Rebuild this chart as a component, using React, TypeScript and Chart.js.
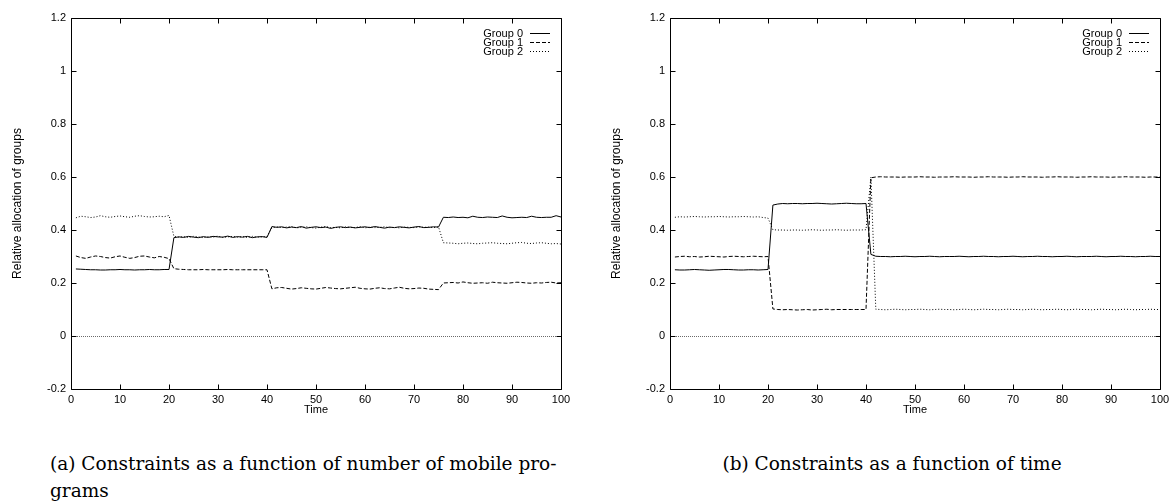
import React, { useEffect, useRef } from 'react';
import { Chart, registerables } from 'chart.js';

Chart.register(...registerables);

// ---------- data ----------
const TIME = [
  1, 2, 3, 4, 5, 6, 7, 8, 9, 10, 11, 12, 13, 14, 15, 16, 17, 18, 19, 20,
  21, 22, 23, 24, 25, 26, 27, 28, 29, 30, 31, 32, 33, 34, 35, 36, 37, 38, 39, 40,
  41, 42, 43, 44, 45, 46, 47, 48, 49, 50, 51, 52, 53, 54, 55, 56, 57, 58, 59, 60,
  61, 62, 63, 64, 65, 66, 67, 68, 69, 70, 71, 72, 73, 74, 75, 76, 77, 78, 79, 80,
  81, 82, 83, 84, 85, 86, 87, 88, 89, 90, 91, 92, 93, 94, 95, 96, 97, 98, 99, 100,
];

// (a) constraints as a function of number of mobile programs
const A_GROUP0 = [
  0.253, 0.252, 0.251, 0.250, 0.250, 0.249, 0.249, 0.250, 0.250, 0.251, 0.250, 0.250, 0.249, 0.250, 0.250, 0.251, 0.250, 0.250, 0.251, 0.251,
  0.371, 0.374, 0.372, 0.376, 0.373, 0.371, 0.375, 0.372, 0.376, 0.374, 0.373, 0.377, 0.372, 0.375, 0.373, 0.376, 0.371, 0.374, 0.375, 0.372,
  0.413, 0.410, 0.412, 0.408, 0.411, 0.409, 0.413, 0.407, 0.410, 0.412, 0.409, 0.411, 0.406, 0.410, 0.412, 0.409, 0.411, 0.408, 0.410, 0.412,
  0.409, 0.413, 0.410, 0.407, 0.411, 0.409, 0.412, 0.410, 0.408, 0.411, 0.413, 0.409, 0.410, 0.412, 0.411,
  0.448, 0.447, 0.449, 0.447, 0.448, 0.446, 0.452, 0.448, 0.447, 0.449, 0.448, 0.447, 0.453, 0.448, 0.446, 0.447, 0.448, 0.447, 0.452, 0.448,
  0.447, 0.448, 0.448, 0.454, 0.449,
];
const A_GROUP1 = [
  0.302, 0.296, 0.293, 0.298, 0.302, 0.300, 0.296, 0.294, 0.299, 0.302, 0.297, 0.293, 0.296, 0.301, 0.302, 0.298, 0.295, 0.300, 0.297, 0.292,
  0.254, 0.252, 0.251, 0.250, 0.250, 0.250, 0.251, 0.250, 0.250, 0.250, 0.250, 0.251, 0.250, 0.250, 0.250, 0.250, 0.250, 0.250, 0.250, 0.250,
  0.178, 0.182, 0.183, 0.180, 0.177, 0.179, 0.182, 0.180, 0.178, 0.177, 0.180, 0.183, 0.181, 0.179, 0.178, 0.180, 0.182, 0.184, 0.180, 0.178,
  0.177, 0.180, 0.182, 0.179, 0.178, 0.181, 0.184, 0.180, 0.178, 0.179, 0.181, 0.180, 0.177, 0.176, 0.175,
  0.200, 0.201, 0.202, 0.200, 0.204, 0.201, 0.199, 0.200, 0.201, 0.199, 0.203, 0.201, 0.200, 0.199, 0.201, 0.203, 0.202, 0.200, 0.199, 0.201,
  0.200, 0.202, 0.203, 0.200, 0.201,
];
const A_GROUP2 = [
  0.446, 0.452, 0.450, 0.447, 0.449, 0.454, 0.450, 0.448, 0.451, 0.453, 0.450, 0.448, 0.452, 0.454, 0.451, 0.449, 0.450, 0.452, 0.450, 0.455,
  0.376, 0.373, 0.375, 0.372, 0.376, 0.374, 0.371, 0.375, 0.373, 0.377, 0.372, 0.374, 0.376, 0.373, 0.375, 0.372, 0.376, 0.373, 0.374, 0.376,
  0.408, 0.412, 0.409, 0.411, 0.413, 0.408, 0.410, 0.412, 0.409, 0.407, 0.411, 0.413, 0.409, 0.410, 0.408, 0.412, 0.410, 0.409, 0.413, 0.408,
  0.411, 0.409, 0.410, 0.412, 0.409, 0.410, 0.408, 0.411, 0.410, 0.409, 0.412, 0.410, 0.411, 0.409, 0.412,
  0.352, 0.351, 0.350, 0.348, 0.350, 0.351, 0.349, 0.348, 0.350, 0.351, 0.352, 0.350, 0.349, 0.348, 0.350, 0.352, 0.353, 0.350, 0.349, 0.351,
  0.352, 0.350, 0.348, 0.349, 0.347,
];

// (b) constraints as a function of time
const B_GROUP0 = [
  0.250, 0.249, 0.249, 0.250, 0.251, 0.250, 0.249, 0.248, 0.249, 0.250, 0.251, 0.251, 0.250, 0.249, 0.249, 0.250, 0.250, 0.249, 0.250, 0.251,
  0.494, 0.498, 0.500, 0.499, 0.500, 0.500, 0.499, 0.500, 0.500, 0.501, 0.500, 0.499, 0.498, 0.499, 0.500, 0.501, 0.500, 0.499, 0.499, 0.500,
  0.308, 0.301, 0.300, 0.300, 0.299, 0.300, 0.300, 0.301, 0.300, 0.299, 0.300, 0.300, 0.301, 0.300, 0.299, 0.300, 0.300, 0.300, 0.301, 0.300,
  0.299, 0.300, 0.300, 0.301, 0.300, 0.300, 0.299, 0.300, 0.300, 0.301, 0.300, 0.299, 0.300, 0.300, 0.301, 0.300, 0.300, 0.299, 0.300, 0.300,
  0.301, 0.300, 0.299, 0.300, 0.300, 0.300, 0.301, 0.300, 0.299, 0.300, 0.300, 0.301, 0.300, 0.300, 0.299, 0.300, 0.300, 0.301, 0.300, 0.300,
];
const B_GROUP1 = [
  0.298, 0.300, 0.301, 0.299, 0.300, 0.298, 0.299, 0.301, 0.300, 0.299, 0.298, 0.300, 0.301, 0.300, 0.299, 0.300, 0.301, 0.300, 0.299, 0.300,
  0.102, 0.100, 0.099, 0.100, 0.099, 0.098, 0.099, 0.100, 0.098, 0.099, 0.100, 0.101, 0.099, 0.100, 0.100, 0.100, 0.100, 0.100, 0.100, 0.100,
  0.597, 0.600, 0.601, 0.600, 0.600, 0.600, 0.599, 0.600, 0.600, 0.600, 0.601, 0.600, 0.600, 0.599, 0.600, 0.600, 0.600, 0.601, 0.600, 0.600,
  0.600, 0.599, 0.600, 0.600, 0.601, 0.600, 0.600, 0.600, 0.599, 0.600, 0.600, 0.601, 0.600, 0.600, 0.600, 0.599, 0.600, 0.600, 0.601, 0.600,
  0.600, 0.600, 0.599, 0.600, 0.600, 0.601, 0.600, 0.600, 0.600, 0.599, 0.600, 0.600, 0.601, 0.600, 0.600, 0.600, 0.599, 0.600, 0.600, 0.600,
];
const B_GROUP2 = [
  0.448, 0.450, 0.449, 0.450, 0.451, 0.450, 0.449, 0.450, 0.450, 0.451, 0.450, 0.449, 0.450, 0.450, 0.451, 0.450, 0.449, 0.450, 0.447, 0.445,
  0.401, 0.400, 0.400, 0.399, 0.400, 0.400, 0.399, 0.400, 0.401, 0.400, 0.399, 0.400, 0.400, 0.401, 0.400, 0.399, 0.400, 0.400, 0.400, 0.401,
  0.600, 0.101, 0.100, 0.099, 0.100, 0.101, 0.100, 0.099, 0.100, 0.100, 0.101, 0.100, 0.099, 0.100, 0.101, 0.100, 0.100, 0.099, 0.100, 0.101,
  0.100, 0.099, 0.100, 0.101, 0.100, 0.100, 0.099, 0.100, 0.101, 0.100, 0.100, 0.099, 0.100, 0.101, 0.100, 0.099, 0.100, 0.100, 0.101, 0.100,
  0.099, 0.100, 0.101, 0.100, 0.100, 0.099, 0.100, 0.101, 0.100, 0.100, 0.099, 0.100, 0.101, 0.100, 0.099, 0.100, 0.100, 0.101, 0.100, 0.100,
];

const SERIES_NAMES = ['Group 0', 'Group 1', 'Group 2'];
const X_TICKS = [0, 10, 20, 30, 40, 50, 60, 70, 80, 90, 100];
const Y_TICKS = [-0.2, 0, 0.2, 0.4, 0.6, 0.8, 1, 1.2];
const Y_TICK_LABELS = ['-0.2', '0', '0.2', '0.4', '0.6', '0.8', '1', '1.2'];
const X_TITLE = 'Time';
const Y_TITLE = 'Relative allocation of groups';
const CAPTION_A = ['(a) Constraints as a function of number of mobile pro-', 'grams'];
const CAPTION_B = '(b) Constraints as a function of time';

// ---------- styling ----------
const DASHES: number[][] = [[], [4, 2], [1, 2]];
const SANS = '"Liberation Sans", Arial, sans-serif';
const TICK_FONT = { family: SANS, size: 11 };
const TITLE_FONT = { family: SANS, size: 12 };

const gnuplotFrame = {
  id: 'gnuplotFrame',
  beforeDatasetsDraw(chart: any) {
    const { ctx, chartArea, scales } = chart;
    const { left, right } = chartArea;
    const y0 = Math.round(scales.y.getPixelForValue(0)) + 0.5;
    ctx.save();
    ctx.strokeStyle = '#6a6a6a';
    ctx.lineWidth = 1;
    ctx.setLineDash([1, 1]);
    ctx.beginPath();
    ctx.moveTo(left, y0);
    ctx.lineTo(right, y0);
    ctx.stroke();
    ctx.restore();
  },
  afterDraw(chart: any) {
    const { ctx, chartArea, scales } = chart;
    const { left, right, top, bottom } = chartArea;
    const L = Math.round(left) + 0.5;
    const R = Math.round(right) + 0.5;
    const T = Math.round(top) + 0.5;
    const B = Math.round(bottom) + 0.5;
    const tick = 5;
    ctx.save();
    ctx.strokeStyle = '#000';
    ctx.lineWidth = 1;
    ctx.setLineDash([]);
    ctx.beginPath();
    ctx.rect(L, T, R - L, B - T);
    X_TICKS.forEach((v) => {
      const px = Math.round(scales.x.getPixelForValue(v)) + 0.5;
      ctx.moveTo(px, B);
      ctx.lineTo(px, B - tick);
      ctx.moveTo(px, T);
      ctx.lineTo(px, T + tick);
    });
    Y_TICKS.forEach((v) => {
      const py = Math.round(scales.y.getPixelForValue(v)) + 0.5;
      ctx.moveTo(L, py);
      ctx.lineTo(L + tick, py);
      ctx.moveTo(R, py);
      ctx.lineTo(R - tick, py);
    });
    ctx.stroke();

    // legend (gnuplot style, top right inside the frame)
    ctx.font = `11px ${SANS}`;
    ctx.fillStyle = '#000';
    ctx.textAlign = 'right';
    ctx.textBaseline = 'middle';
    SERIES_NAMES.forEach((name, i) => {
      const yy = Math.round(top + 15 + i * 9) + 0.5;
      ctx.fillText(name, right - 38, yy);
      ctx.setLineDash(DASHES[i]);
      ctx.beginPath();
      ctx.moveTo(right - 31, yy);
      ctx.lineTo(right - 11, yy);
      ctx.stroke();
    });
    ctx.restore();
  },
};

function Panel(props: { left: number; width: number; height: number; series: number[][] }) {
  const { left, width, height, series } = props;
  const ref = useRef<HTMLCanvasElement>(null);

  useEffect(() => {
    if (!ref.current) return;
    const plotLeft = 71;
    const plotRight = 561;
    const chart = new Chart(ref.current, {
      type: 'line',
      data: {
        datasets: series.map((vals, i) => ({
          label: SERIES_NAMES[i],
          data: TIME.map((t, j) => ({ x: t, y: vals[j] })),
          borderColor: '#000',
          borderWidth: 1,
          borderDash: DASHES[i],
          pointRadius: 0,
          tension: 0,
          fill: false,
        })),
      },
      options: {
        responsive: false,
        animation: false,
        events: [],
        layout: { padding: { left: 0, top: 18, right: width - plotRight, bottom: 0 } },
        plugins: { legend: { display: false }, tooltip: { enabled: false } },
        scales: {
          x: {
            type: 'linear',
            min: 0,
            max: 100,
            grid: { display: false, drawTicks: false },
            border: { display: false },
            afterBuildTicks: (s: any) => {
              s.ticks = X_TICKS.map((v) => ({ value: v }));
            },
            afterFit: (s: any) => {
              s.height = height - 389;
              s.paddingLeft = 0;
              s.paddingRight = 0;
            },
            ticks: {
              font: TICK_FONT,
              color: '#000',
              padding: 4,
              maxRotation: 0,
              autoSkip: false,
              callback: (v: any) => String(v),
            },
            title: {
              display: true,
              text: X_TITLE,
              font: TICK_FONT,
              color: '#000',
              padding: { top: 0, bottom: height - 389 - 28 },
            },
          },
          y: {
            type: 'linear',
            min: -0.2,
            max: 1.2,
            grid: { display: false, drawTicks: false },
            border: { display: false },
            afterBuildTicks: (s: any) => {
              s.ticks = Y_TICKS.map((v) => ({ value: v }));
            },
            afterFit: (s: any) => {
              s.width = plotLeft;
              s.paddingTop = 0;
              s.paddingBottom = 0;
            },
            ticks: {
              font: TICK_FONT,
              color: '#000',
              padding: 5,
              autoSkip: false,
              callback: (v: any) => {
                const idx = Y_TICKS.findIndex((t) => Math.abs(t - v) < 1e-9);
                return idx >= 0 ? Y_TICK_LABELS[idx] : '';
              },
            },
            title: {
              display: true,
              text: Y_TITLE,
              font: TITLE_FONT,
              color: '#000',
              padding: { top: 10, bottom: 0 },
            },
          },
        },
      },
      plugins: [gnuplotFrame],
    } as any);
    return () => chart.destroy();
  }, []);

  return (
    <canvas
      ref={ref}
      width={width}
      height={height}
      style={{ position: 'absolute', left, top: 0, width, height }}
    />
  );
}

export default function App() {
  const captionStyle: React.CSSProperties = {
    position: 'absolute',
    fontFamily: '"DejaVu Serif", "Liberation Serif", serif',
    fontSize: 18.5,
    lineHeight: '27px',
    color: '#000',
    whiteSpace: 'nowrap',
  };
  return (
    <div style={{ position: 'absolute', left: 0, top: 0, width: 1170, height: 502, background: '#fff', overflow: 'hidden' }}>
      <Panel left={0} width={585} height={430} series={[A_GROUP0, A_GROUP1, A_GROUP2]} />
      <Panel left={599} width={571} height={430} series={[B_GROUP0, B_GROUP1, B_GROUP2]} />
      <div style={{ ...captionStyle, left: 50, top: 450 }}>
        {CAPTION_A[0]}
        <br />
        {CAPTION_A[1]}
      </div>
      <div style={{ ...captionStyle, left: 892, top: 450, transform: 'translateX(-50%)' }}>{CAPTION_B}</div>
    </div>
  );
}
